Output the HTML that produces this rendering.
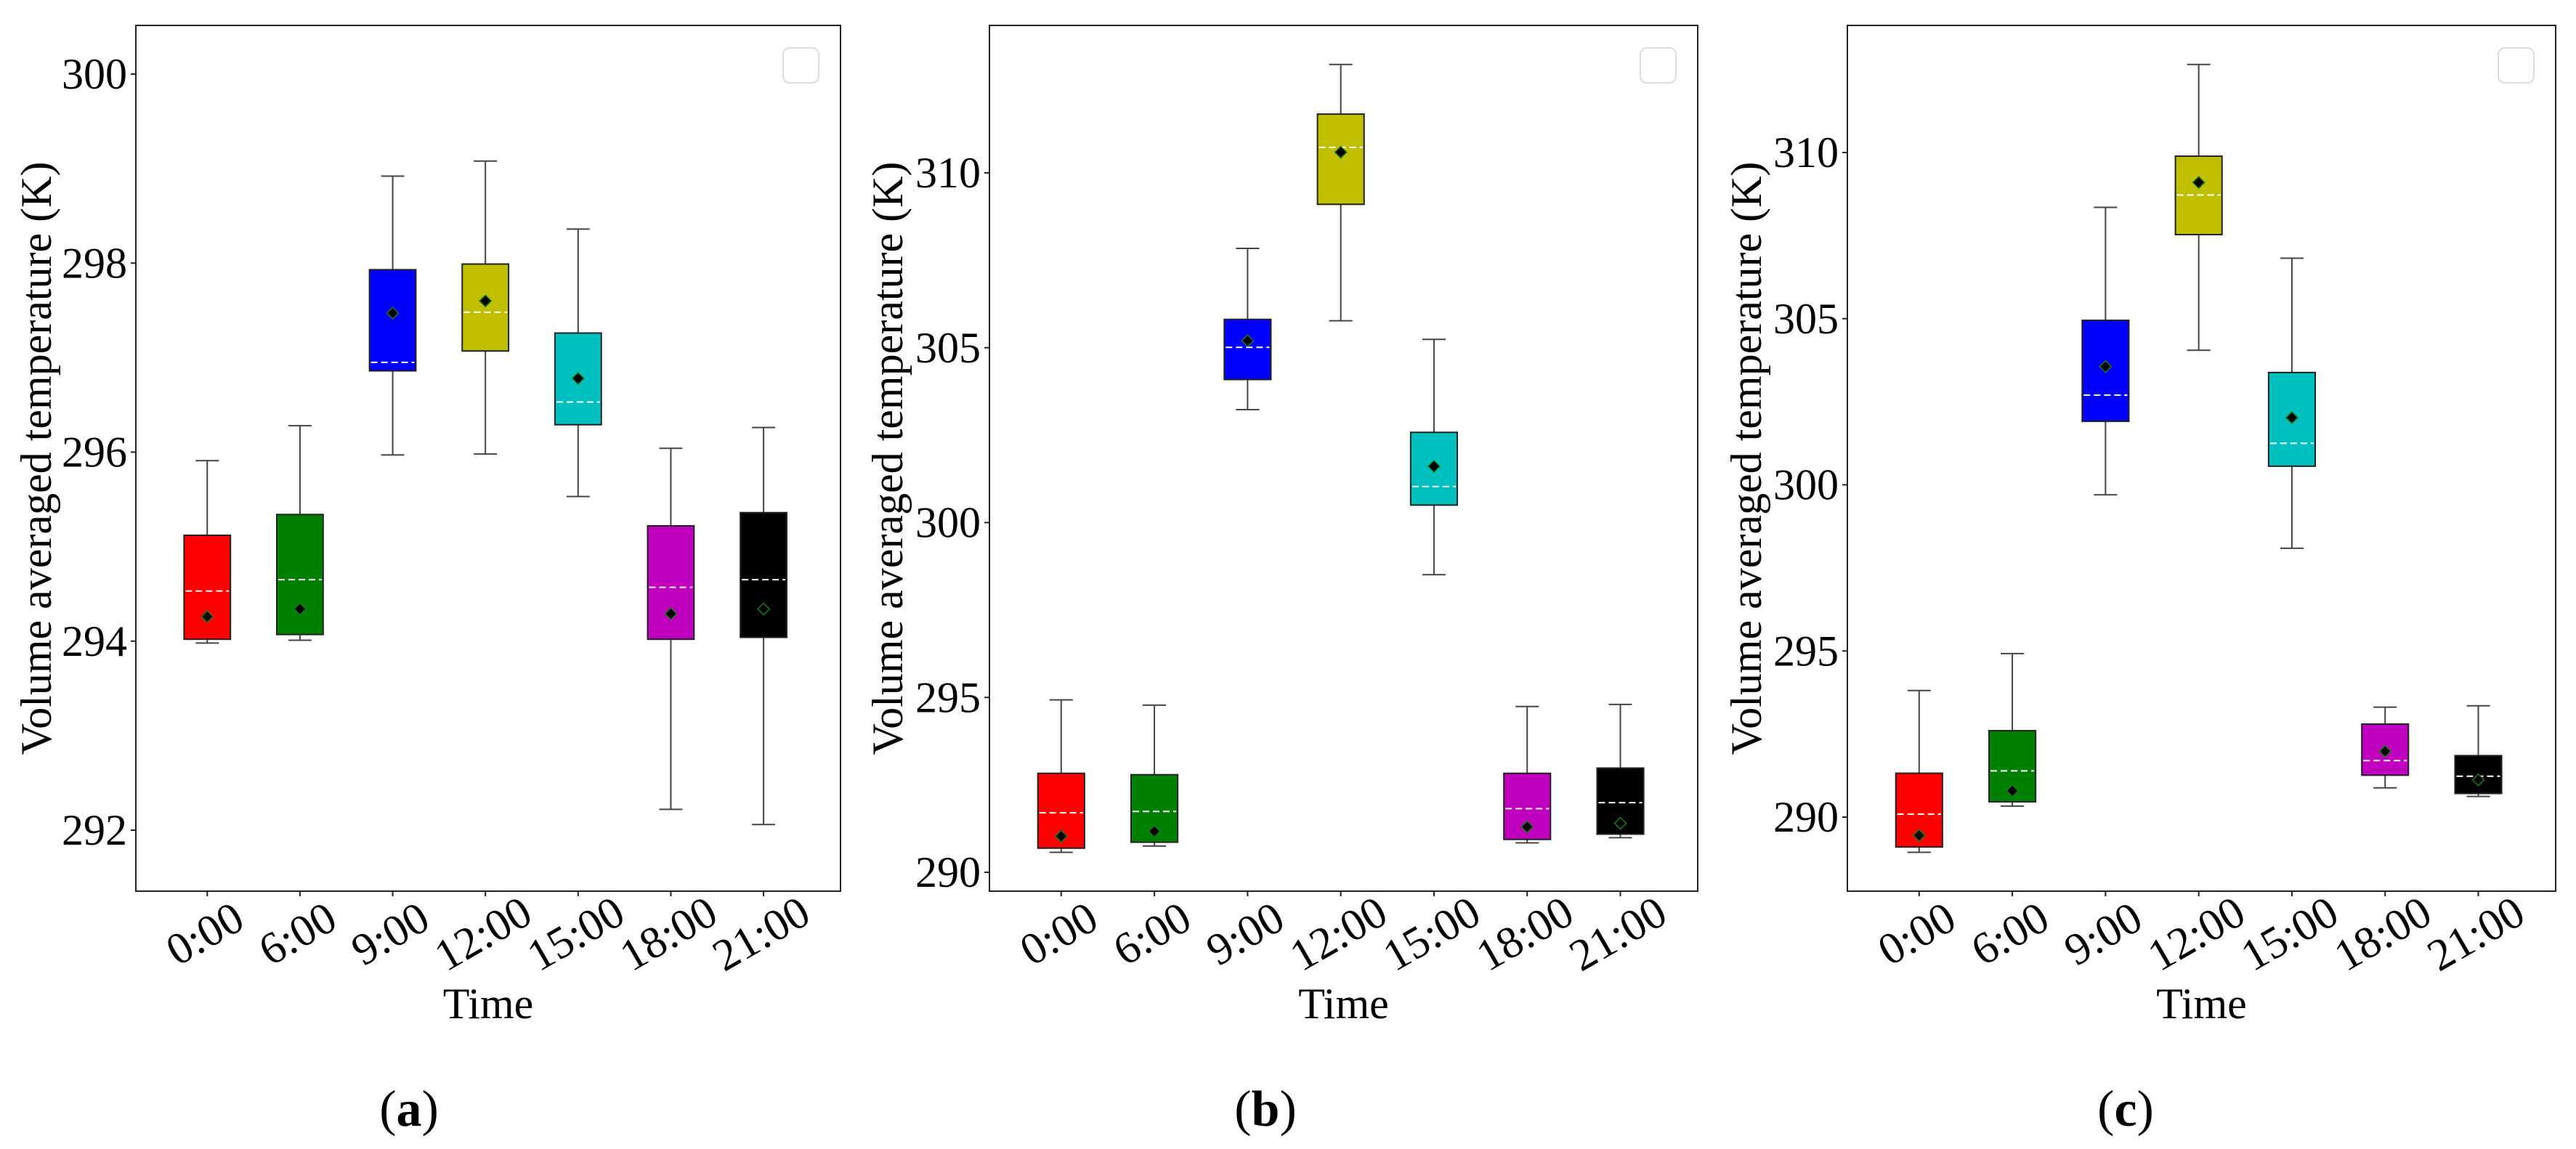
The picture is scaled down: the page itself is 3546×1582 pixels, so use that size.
<!DOCTYPE html>
<html><head><meta charset="utf-8"><style>
html,body{margin:0;padding:0;background:#fff;}
svg{display:block;font-family:"Liberation Serif",serif;}
</style></head><body>
<svg id="fig" width="3546" height="1582" viewBox="0 0 3546 1582" xmlns="http://www.w3.org/2000/svg"></svg>
<script>
const categories = ["0:00","6:00","9:00","12:00","15:00","18:00","21:00"];
const colors = ["#ff0000","#008000","#0000ff","#bfbf00","#00bfbf","#bf00bf","#000000"];
// panel a
const aLow  = [293.98,294.01,295.97,295.98,295.53,292.22,292.06];
const aQ1   = [294.02,294.07,296.86,297.07,296.29,294.02,294.04];
const aMed  = [294.53,294.65,296.95,297.48,296.53,294.57,294.65];
const aMean = [294.26,294.34,297.47,297.60,296.78,294.29,294.34];
const aQ3   = [295.12,295.34,297.93,297.99,297.26,295.22,295.36];
const aHigh = [295.91,296.28,298.92,299.08,298.36,296.04,296.26];
const aTicks = [292,294,296,298,300];
// panel b
const bLow  = [290.57,290.75,303.23,305.77,298.51,290.84,290.99];
const bQ1   = [290.69,290.86,304.09,309.10,300.50,290.94,291.09];
const bMed  = [291.70,291.74,305.01,310.73,301.03,291.82,291.99];
const bMean = [291.03,291.17,305.20,310.59,301.61,291.30,291.40];
const bQ3   = [292.83,292.79,305.81,311.68,302.58,292.83,292.98];
const bHigh = [294.93,294.78,307.84,313.10,305.24,294.74,294.80];
const bTicks = [290,295,300,305,310];
// panel c
const cLow  = [288.94,290.33,299.70,304.05,298.09,290.88,290.62];
const cQ1   = [289.10,290.46,301.91,307.53,300.56,291.26,290.71];
const cMed  = [290.09,291.39,302.70,308.72,301.25,291.70,291.23];
const cMean = [289.45,290.79,303.56,309.10,302.02,291.98,291.12];
const cQ3   = [291.32,292.60,304.95,309.89,303.38,292.80,291.85];
const cHigh = [293.81,294.92,308.35,312.65,306.82,293.31,293.35];
const cTicks = [290,295,300,305,310];

const NS="http://www.w3.org/2000/svg";
const svg=document.getElementById('fig');
function mk(tag,attrs,parent){const e=document.createElementNS(NS,tag);for(const k in attrs)e.setAttribute(k,attrs[k]);(parent||svg).appendChild(e);return e;}

const panels=[
 {id:'a',left:187,right:1157,top:35,bottom:1227,v0:300,y0:102,v1:292,y1:1143,ylabX:50,letterX:563,
  low:aLow,q1:aQ1,med:aMed,mean:aMean,q3:aQ3,high:aHigh,ticks:aTicks},
 {id:'b',left:1362,right:2337,top:35,bottom:1227,v0:310,y0:238,v1:290,y1:1201,ylabX:1222,letterX:1742,
  low:bLow,q1:bQ1,med:bMed,mean:bMean,q3:bQ3,high:bHigh,ticks:bTicks},
 {id:'c',left:2543,right:3518,top:35,bottom:1227,v0:310,y0:210,v1:290,y1:1125,ylabX:2404,letterX:2926,
  low:cLow,q1:cQ1,med:cMed,mean:cMean,q3:cQ3,high:cHigh,ticks:cTicks}
];

panels.forEach(p=>{
  const g=mk('g',{});
  
  
  const y=v=>p.y0+(v-p.v0)*(p.y1-p.y0)/(p.v1-p.v0);
  const n=categories.length;
  const step=(p.right-p.left)/(n+0.6);
  const x=i=>p.left+step*(0.77+i);
  const bw=step*0.5;
  const fr=mk('rect',{x:p.left,y:p.top,width:p.right-p.left,height:p.bottom-p.top,fill:'none',stroke:'#222','stroke-width':2},g);
  
  
  const lg=mk('rect',{x:p.right-79,y:66,width:49,height:48,rx:9,fill:'#fff',stroke:'#ddd','stroke-width':2},g);
  
  
  p.ticks.forEach(t=>{
    mk('line',{x1:p.left-7,x2:p.left,y1:y(t),y2:y(t),stroke:'#222','stroke-width':2},g);
    const tx=mk('text',{x:p.left-12,y:y(t),'font-size':60,'text-anchor':'end','dominant-baseline':'central'},g);
    tx.textContent=t;
    
    
  });
  categories.forEach((c,i)=>{
    const cx=x(i);
    const bg=mk('g',{},g);
    
    
    mk('line',{x1:cx,x2:cx,y1:y(p.high[i]),y2:y(p.q3[i]),stroke:'#444','stroke-width':2},bg);
    mk('line',{x1:cx,x2:cx,y1:y(p.q1[i]),y2:y(p.low[i]),stroke:'#444','stroke-width':2},bg);
    mk('line',{x1:cx-bw/4,x2:cx+bw/4,y1:y(p.high[i]),y2:y(p.high[i]),stroke:'#444','stroke-width':2},bg);
    mk('line',{x1:cx-bw/4,x2:cx+bw/4,y1:y(p.low[i]),y2:y(p.low[i]),stroke:'#444','stroke-width':2},bg);
    mk('rect',{x:cx-bw/2,y:y(p.q3[i]),width:bw,height:y(p.q1[i])-y(p.q3[i]),fill:colors[i],stroke:'#222','stroke-width':2},bg);
    mk('line',{x1:cx-bw/2+2,x2:cx+bw/2-2,y1:y(p.med[i]),y2:y(p.med[i]),stroke:'#fff','stroke-width':2,'stroke-dasharray':'9,5'},bg);
    const my=y(p.mean[i]);
    mk('polygon',{points:`${cx},${my-8} ${cx+8},${my} ${cx},${my+8} ${cx-8},${my}`,fill:'#000',stroke:'#1a7a1a','stroke-width':1.5},bg);
    mk('line',{x1:cx,x2:cx,y1:p.bottom,y2:p.bottom+7,stroke:'#222','stroke-width':2},g);
    const tl=mk('text',{x:cx-3,y:1286,'font-size':62,'text-anchor':'middle','dominant-baseline':'central',transform:`rotate(-30 ${cx-3} 1286)`},g);
    tl.textContent=c;
    
    
  });
  const xt=mk('text',{x:(p.left+p.right)/2,y:1382,'font-size':60,'text-anchor':'middle','dominant-baseline':'central'},g);
  xt.textContent='Time';
  
  
  const yt=mk('text',{x:p.ylabX,y:631,'font-size':60,'text-anchor':'middle','dominant-baseline':'central',transform:`rotate(-90 ${p.ylabX} 631)`},g);
  yt.textContent='Volume averaged temperature (K)';
  
  
  const lt=mk('text',{x:p.letterX,y:1527,'font-size':70,'text-anchor':'middle','dominant-baseline':'central'},g);
  lt.innerHTML='(<tspan font-weight="bold">'+p.id+'</tspan>)';
  
  
});
</script>
</body></html>
